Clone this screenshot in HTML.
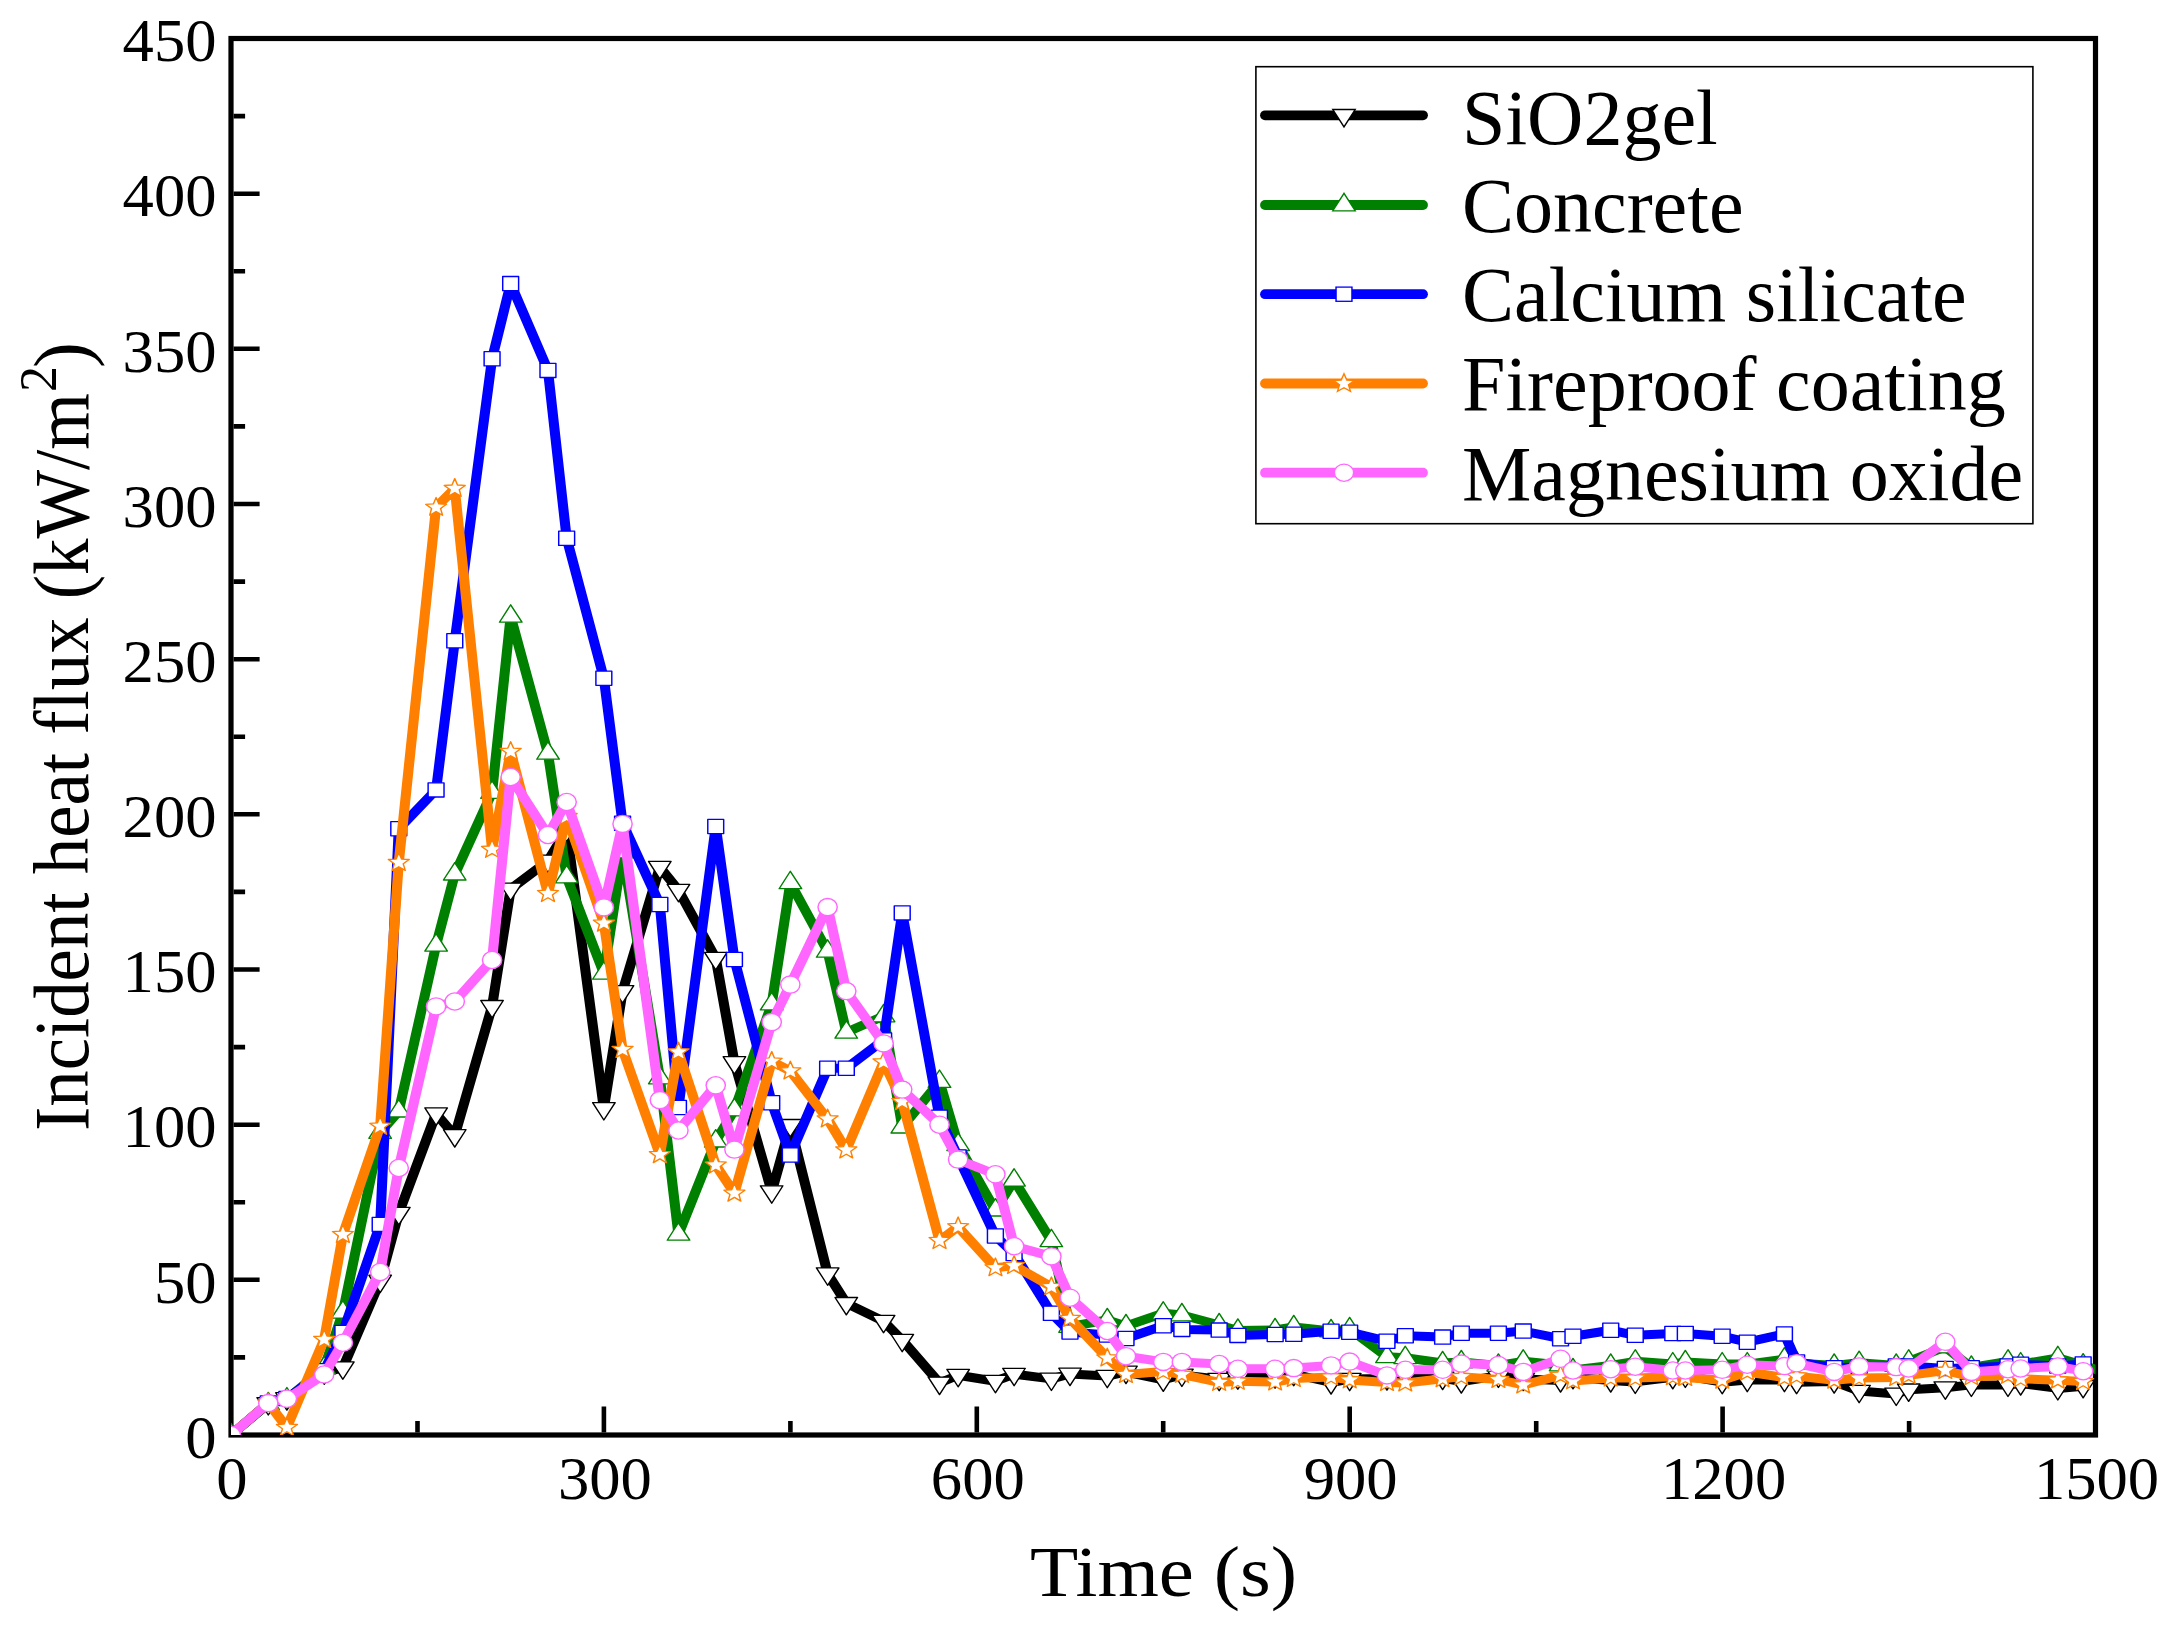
<!DOCTYPE html><html><head><meta charset="utf-8"><style>html,body{margin:0;padding:0;background:#fff;}svg{display:block;}text{font-family:"Liberation Serif","Times New Roman",serif;fill:#000;}</style></head><body>
<svg width="2169" height="1625" viewBox="0 0 2169 1625">
<rect width="2169" height="1625" fill="#fff"/>
<defs><clipPath id="pc"><rect x="231" y="38.5" width="1864.5" height="1396.5"/></clipPath></defs>
<rect x="231" y="38.5" width="1864.5" height="1396.5" fill="none" stroke="#000" stroke-width="5.2"/>
<path d="M233.6,1357.4h11.5 M233.6,1279.8h26 M233.6,1202.2h11.5 M233.6,1124.7h26 M233.6,1047.1h11.5 M233.6,969.5h26 M233.6,891.9h11.5 M233.6,814.3h26 M233.6,736.8h11.5 M233.6,659.2h26 M233.6,581.6h11.5 M233.6,504.0h26 M233.6,426.4h11.5 M233.6,348.8h26 M233.6,271.2h11.5 M233.6,193.7h26 M233.6,116.1h11.5 M417.5,1432.5v-11.5 M603.9,1432.5v-26 M790.4,1432.5v-11.5 M976.8,1432.5v-26 M1163.2,1432.5v-11.5 M1349.7,1432.5v-26 M1536.2,1432.5v-11.5 M1722.6,1432.5v-26 M1909.1,1432.5v-11.5" stroke="#000" stroke-width="4.6" fill="none"/>
<g clip-path="url(#pc)"><g transform="translate(231,0) scale(1.12,1) translate(-231,0)" stroke-linejoin="round">
<path d="M231.0,1435.0 L264.3,1403.4 L280.9,1398.5 L314.2,1372.7 L330.9,1367.7 L364.2,1281.0 L380.8,1213.2 L414.1,1113.7 L430.8,1135.5 L464.1,1006.3 L480.7,889.0 L514.0,861.0 L530.7,830.0 L563.9,1108.4 L580.6,991.4 L613.9,867.2 L630.5,890.2 L663.8,958.2 L680.5,1062.5 L713.8,1191.6 L730.4,1125.3 L763.7,1273.7 L780.4,1303.3 L813.7,1321.2 L830.3,1340.1 L863.6,1383.0 L880.2,1375.2 L913.5,1381.2 L930.2,1374.1 L963.5,1378.9 L980.1,1374.0 L1013.4,1376.1 L1030.1,1372.0 L1063.4,1379.8 L1080.0,1374.9 L1113.3,1379.1 L1130.0,1377.7 L1163.2,1376.6 L1179.9,1374.2 L1213.2,1382.5 L1229.8,1379.1 L1263.1,1378.5 L1279.5,1375.9 L1312.8,1378.0 L1329.5,1381.5 L1362.6,1375.9 L1384.8,1379.0 L1418.1,1380.5 L1429.2,1377.3 L1462.9,1380.5 L1484.8,1381.9 L1518.3,1377.3 L1529.5,1375.9 L1562.4,1382.2 L1584.8,1380.1 L1618.0,1380.1 L1628.9,1382.2 L1662.4,1381.5 L1684.7,1391.1 L1717.8,1393.9 L1728.9,1389.8 L1761.6,1387.7 L1784.9,1384.9 L1817.6,1384.9 L1828.9,1383.5 L1862.1,1388.4 L1884.7,1386.3" fill="none" stroke="#000000" stroke-width="9.0"/>
<path d="M220.9,1429.2H241.1L231.0,1446.6Z" fill="#fff" stroke="#000000" stroke-width="1.3"/><path d="M254.2,1397.6H274.3L264.3,1415.0Z" fill="#fff" stroke="#000000" stroke-width="1.3"/><path d="M270.9,1392.7H291.0L280.9,1410.1Z" fill="#fff" stroke="#000000" stroke-width="1.3"/><path d="M304.2,1366.9H324.3L314.2,1384.3Z" fill="#fff" stroke="#000000" stroke-width="1.3"/><path d="M320.8,1361.9H340.9L330.9,1379.3Z" fill="#fff" stroke="#000000" stroke-width="1.3"/><path d="M354.1,1275.2H374.2L364.2,1292.6Z" fill="#fff" stroke="#000000" stroke-width="1.3"/><path d="M370.8,1207.4H390.9L380.8,1224.8Z" fill="#fff" stroke="#000000" stroke-width="1.3"/><path d="M404.1,1107.9H424.2L414.1,1125.3Z" fill="#fff" stroke="#000000" stroke-width="1.3"/><path d="M420.7,1129.7H440.8L430.8,1147.1Z" fill="#fff" stroke="#000000" stroke-width="1.3"/><path d="M454.0,1000.5H474.1L464.1,1017.9Z" fill="#fff" stroke="#000000" stroke-width="1.3"/><path d="M470.7,883.2H490.8L480.7,900.6Z" fill="#fff" stroke="#000000" stroke-width="1.3"/><path d="M504.0,855.2H524.1L514.0,872.6Z" fill="#fff" stroke="#000000" stroke-width="1.3"/><path d="M520.6,824.2H540.7L530.7,841.6Z" fill="#fff" stroke="#000000" stroke-width="1.3"/><path d="M553.9,1102.6H574.0L563.9,1120.0Z" fill="#fff" stroke="#000000" stroke-width="1.3"/><path d="M570.5,985.6H590.6L580.6,1003.0Z" fill="#fff" stroke="#000000" stroke-width="1.3"/><path d="M603.8,861.4H623.9L613.9,878.8Z" fill="#fff" stroke="#000000" stroke-width="1.3"/><path d="M620.5,884.4H640.6L630.5,901.8Z" fill="#fff" stroke="#000000" stroke-width="1.3"/><path d="M653.8,952.4H673.9L663.8,969.8Z" fill="#fff" stroke="#000000" stroke-width="1.3"/><path d="M670.4,1056.7H690.5L680.5,1074.1Z" fill="#fff" stroke="#000000" stroke-width="1.3"/><path d="M703.7,1185.8H723.8L713.8,1203.2Z" fill="#fff" stroke="#000000" stroke-width="1.3"/><path d="M720.4,1119.5H740.5L730.4,1136.9Z" fill="#fff" stroke="#000000" stroke-width="1.3"/><path d="M753.7,1267.9H773.8L763.7,1285.3Z" fill="#fff" stroke="#000000" stroke-width="1.3"/><path d="M770.3,1297.5H790.4L780.4,1314.9Z" fill="#fff" stroke="#000000" stroke-width="1.3"/><path d="M803.6,1315.4H823.7L813.7,1332.8Z" fill="#fff" stroke="#000000" stroke-width="1.3"/><path d="M820.3,1334.3H840.4L830.3,1351.7Z" fill="#fff" stroke="#000000" stroke-width="1.3"/><path d="M853.5,1377.2H873.6L863.6,1394.6Z" fill="#fff" stroke="#000000" stroke-width="1.3"/><path d="M870.2,1369.4H890.3L880.2,1386.8Z" fill="#fff" stroke="#000000" stroke-width="1.3"/><path d="M903.5,1375.4H923.6L913.5,1392.8Z" fill="#fff" stroke="#000000" stroke-width="1.3"/><path d="M920.1,1368.3H940.2L930.2,1385.7Z" fill="#fff" stroke="#000000" stroke-width="1.3"/><path d="M953.4,1373.1H973.5L963.5,1390.5Z" fill="#fff" stroke="#000000" stroke-width="1.3"/><path d="M970.1,1368.2H990.2L980.1,1385.6Z" fill="#fff" stroke="#000000" stroke-width="1.3"/><path d="M1003.4,1370.3H1023.5L1013.4,1387.7Z" fill="#fff" stroke="#000000" stroke-width="1.3"/><path d="M1020.0,1366.2H1040.1L1030.1,1383.6Z" fill="#fff" stroke="#000000" stroke-width="1.3"/><path d="M1053.3,1374.0H1073.4L1063.4,1391.4Z" fill="#fff" stroke="#000000" stroke-width="1.3"/><path d="M1070.0,1369.1H1090.1L1080.0,1386.5Z" fill="#fff" stroke="#000000" stroke-width="1.3"/><path d="M1103.3,1373.3H1123.4L1113.3,1390.7Z" fill="#fff" stroke="#000000" stroke-width="1.3"/><path d="M1119.9,1371.9H1140.0L1130.0,1389.3Z" fill="#fff" stroke="#000000" stroke-width="1.3"/><path d="M1153.2,1370.8H1173.3L1163.2,1388.2Z" fill="#fff" stroke="#000000" stroke-width="1.3"/><path d="M1169.8,1368.4H1189.9L1179.9,1385.8Z" fill="#fff" stroke="#000000" stroke-width="1.3"/><path d="M1203.1,1376.7H1223.2L1213.2,1394.1Z" fill="#fff" stroke="#000000" stroke-width="1.3"/><path d="M1219.8,1373.3H1239.9L1229.8,1390.7Z" fill="#fff" stroke="#000000" stroke-width="1.3"/><path d="M1253.1,1372.7H1273.2L1263.1,1390.1Z" fill="#fff" stroke="#000000" stroke-width="1.3"/><path d="M1269.4,1370.1H1289.5L1279.5,1387.5Z" fill="#fff" stroke="#000000" stroke-width="1.3"/><path d="M1302.7,1372.2H1322.8L1312.8,1389.6Z" fill="#fff" stroke="#000000" stroke-width="1.3"/><path d="M1319.4,1375.7H1339.5L1329.5,1393.1Z" fill="#fff" stroke="#000000" stroke-width="1.3"/><path d="M1352.6,1370.1H1372.7L1362.6,1387.5Z" fill="#fff" stroke="#000000" stroke-width="1.3"/><path d="M1374.7,1373.2H1394.8L1384.8,1390.6Z" fill="#fff" stroke="#000000" stroke-width="1.3"/><path d="M1408.1,1374.7H1428.2L1418.1,1392.1Z" fill="#fff" stroke="#000000" stroke-width="1.3"/><path d="M1419.2,1371.5H1439.3L1429.2,1388.9Z" fill="#fff" stroke="#000000" stroke-width="1.3"/><path d="M1452.8,1374.7H1472.9L1462.9,1392.1Z" fill="#fff" stroke="#000000" stroke-width="1.3"/><path d="M1474.8,1376.1H1494.9L1484.8,1393.5Z" fill="#fff" stroke="#000000" stroke-width="1.3"/><path d="M1508.3,1371.5H1528.4L1518.3,1388.9Z" fill="#fff" stroke="#000000" stroke-width="1.3"/><path d="M1519.4,1370.1H1539.5L1529.5,1387.5Z" fill="#fff" stroke="#000000" stroke-width="1.3"/><path d="M1552.4,1376.4H1572.5L1562.4,1393.8Z" fill="#fff" stroke="#000000" stroke-width="1.3"/><path d="M1574.7,1374.3H1594.8L1584.8,1391.7Z" fill="#fff" stroke="#000000" stroke-width="1.3"/><path d="M1607.9,1374.3H1628.0L1618.0,1391.7Z" fill="#fff" stroke="#000000" stroke-width="1.3"/><path d="M1618.8,1376.4H1638.9L1628.9,1393.8Z" fill="#fff" stroke="#000000" stroke-width="1.3"/><path d="M1652.4,1375.7H1672.5L1662.4,1393.1Z" fill="#fff" stroke="#000000" stroke-width="1.3"/><path d="M1674.6,1385.3H1694.7L1684.7,1402.7Z" fill="#fff" stroke="#000000" stroke-width="1.3"/><path d="M1707.7,1388.1H1727.8L1717.8,1405.5Z" fill="#fff" stroke="#000000" stroke-width="1.3"/><path d="M1718.9,1384.0H1739.0L1728.9,1401.4Z" fill="#fff" stroke="#000000" stroke-width="1.3"/><path d="M1751.6,1381.9H1771.7L1761.6,1399.3Z" fill="#fff" stroke="#000000" stroke-width="1.3"/><path d="M1774.9,1379.1H1795.0L1784.9,1396.5Z" fill="#fff" stroke="#000000" stroke-width="1.3"/><path d="M1807.6,1379.1H1827.7L1817.6,1396.5Z" fill="#fff" stroke="#000000" stroke-width="1.3"/><path d="M1818.9,1377.7H1839.0L1828.9,1395.1Z" fill="#fff" stroke="#000000" stroke-width="1.3"/><path d="M1852.0,1382.6H1872.1L1862.1,1400.0Z" fill="#fff" stroke="#000000" stroke-width="1.3"/><path d="M1874.6,1380.5H1894.7L1884.7,1397.9Z" fill="#fff" stroke="#000000" stroke-width="1.3"/>
<path d="M231.0,1435.0 L264.3,1404.0 L280.9,1399.1 L314.2,1368.0 L330.9,1312.3 L364.2,1132.5 L380.8,1111.2 L414.1,945.3 L430.8,874.2 L464.1,792.5 L480.7,616.4 L514.0,753.4 L530.7,877.0 L563.9,973.4 L580.6,852.0 L613.9,1078.0 L630.5,1234.4 L663.8,1141.2 L680.5,1110.0 L713.8,1004.1 L730.4,882.9 L763.7,951.4 L780.4,1032.4 L813.7,1016.0 L830.3,1127.2 L863.6,1081.6 L880.2,1144.7 L913.5,1210.2 L930.2,1180.3 L963.5,1240.9 L980.1,1326.5 L1013.4,1320.0 L1030.1,1326.0 L1063.4,1313.3 L1080.0,1315.0 L1113.3,1325.0 L1130.0,1330.5 L1163.2,1330.0 L1179.9,1327.0 L1213.2,1331.0 L1229.8,1329.0 L1263.1,1356.8 L1279.5,1357.8 L1312.8,1363.0 L1329.5,1362.0 L1362.6,1365.5 L1384.8,1361.3 L1418.1,1365.0 L1429.2,1370.0 L1462.9,1365.5 L1484.8,1361.3 L1518.3,1364.1 L1529.5,1362.0 L1562.4,1364.1 L1584.8,1364.1 L1618.0,1359.2 L1628.9,1363.0 L1662.4,1365.5 L1684.7,1362.7 L1717.8,1365.5 L1728.9,1361.3 L1761.6,1347.0 L1784.9,1367.5 L1817.6,1361.3 L1828.9,1364.1 L1862.1,1357.9 L1884.7,1365.2 L1917.6,1378.0" fill="none" stroke="#008000" stroke-width="9.0"/>
<path d="M220.9,1440.8H241.1L231.0,1423.4Z" fill="#fff" stroke="#008000" stroke-width="1.3"/><path d="M254.2,1409.8H274.3L264.3,1392.4Z" fill="#fff" stroke="#008000" stroke-width="1.3"/><path d="M270.9,1404.9H291.0L280.9,1387.5Z" fill="#fff" stroke="#008000" stroke-width="1.3"/><path d="M304.2,1373.8H324.3L314.2,1356.4Z" fill="#fff" stroke="#008000" stroke-width="1.3"/><path d="M320.8,1318.1H340.9L330.9,1300.7Z" fill="#fff" stroke="#008000" stroke-width="1.3"/><path d="M354.1,1138.3H374.2L364.2,1120.9Z" fill="#fff" stroke="#008000" stroke-width="1.3"/><path d="M370.8,1117.0H390.9L380.8,1099.6Z" fill="#fff" stroke="#008000" stroke-width="1.3"/><path d="M404.1,951.1H424.2L414.1,933.7Z" fill="#fff" stroke="#008000" stroke-width="1.3"/><path d="M420.7,880.0H440.8L430.8,862.6Z" fill="#fff" stroke="#008000" stroke-width="1.3"/><path d="M454.0,798.3H474.1L464.1,780.9Z" fill="#fff" stroke="#008000" stroke-width="1.3"/><path d="M470.7,622.2H490.8L480.7,604.8Z" fill="#fff" stroke="#008000" stroke-width="1.3"/><path d="M504.0,759.2H524.1L514.0,741.8Z" fill="#fff" stroke="#008000" stroke-width="1.3"/><path d="M520.6,882.8H540.7L530.7,865.4Z" fill="#fff" stroke="#008000" stroke-width="1.3"/><path d="M553.9,979.2H574.0L563.9,961.8Z" fill="#fff" stroke="#008000" stroke-width="1.3"/><path d="M570.5,857.8H590.6L580.6,840.4Z" fill="#fff" stroke="#008000" stroke-width="1.3"/><path d="M603.8,1083.8H623.9L613.9,1066.4Z" fill="#fff" stroke="#008000" stroke-width="1.3"/><path d="M620.5,1240.2H640.6L630.5,1222.8Z" fill="#fff" stroke="#008000" stroke-width="1.3"/><path d="M653.8,1147.0H673.9L663.8,1129.6Z" fill="#fff" stroke="#008000" stroke-width="1.3"/><path d="M670.4,1115.8H690.5L680.5,1098.4Z" fill="#fff" stroke="#008000" stroke-width="1.3"/><path d="M703.7,1009.9H723.8L713.8,992.5Z" fill="#fff" stroke="#008000" stroke-width="1.3"/><path d="M720.4,888.7H740.5L730.4,871.3Z" fill="#fff" stroke="#008000" stroke-width="1.3"/><path d="M753.7,957.2H773.8L763.7,939.8Z" fill="#fff" stroke="#008000" stroke-width="1.3"/><path d="M770.3,1038.2H790.4L780.4,1020.8Z" fill="#fff" stroke="#008000" stroke-width="1.3"/><path d="M803.6,1021.8H823.7L813.7,1004.4Z" fill="#fff" stroke="#008000" stroke-width="1.3"/><path d="M820.3,1133.0H840.4L830.3,1115.6Z" fill="#fff" stroke="#008000" stroke-width="1.3"/><path d="M853.5,1087.4H873.6L863.6,1070.0Z" fill="#fff" stroke="#008000" stroke-width="1.3"/><path d="M870.2,1150.5H890.3L880.2,1133.1Z" fill="#fff" stroke="#008000" stroke-width="1.3"/><path d="M903.5,1216.0H923.6L913.5,1198.6Z" fill="#fff" stroke="#008000" stroke-width="1.3"/><path d="M920.1,1186.1H940.2L930.2,1168.7Z" fill="#fff" stroke="#008000" stroke-width="1.3"/><path d="M953.4,1246.7H973.5L963.5,1229.3Z" fill="#fff" stroke="#008000" stroke-width="1.3"/><path d="M970.1,1332.3H990.2L980.1,1314.9Z" fill="#fff" stroke="#008000" stroke-width="1.3"/><path d="M1003.4,1325.8H1023.5L1013.4,1308.4Z" fill="#fff" stroke="#008000" stroke-width="1.3"/><path d="M1020.0,1331.8H1040.1L1030.1,1314.4Z" fill="#fff" stroke="#008000" stroke-width="1.3"/><path d="M1053.3,1319.1H1073.4L1063.4,1301.7Z" fill="#fff" stroke="#008000" stroke-width="1.3"/><path d="M1070.0,1320.8H1090.1L1080.0,1303.4Z" fill="#fff" stroke="#008000" stroke-width="1.3"/><path d="M1103.3,1330.8H1123.4L1113.3,1313.4Z" fill="#fff" stroke="#008000" stroke-width="1.3"/><path d="M1119.9,1336.3H1140.0L1130.0,1318.9Z" fill="#fff" stroke="#008000" stroke-width="1.3"/><path d="M1153.2,1335.8H1173.3L1163.2,1318.4Z" fill="#fff" stroke="#008000" stroke-width="1.3"/><path d="M1169.8,1332.8H1189.9L1179.9,1315.4Z" fill="#fff" stroke="#008000" stroke-width="1.3"/><path d="M1203.1,1336.8H1223.2L1213.2,1319.4Z" fill="#fff" stroke="#008000" stroke-width="1.3"/><path d="M1219.8,1334.8H1239.9L1229.8,1317.4Z" fill="#fff" stroke="#008000" stroke-width="1.3"/><path d="M1253.1,1362.6H1273.2L1263.1,1345.2Z" fill="#fff" stroke="#008000" stroke-width="1.3"/><path d="M1269.4,1363.6H1289.5L1279.5,1346.2Z" fill="#fff" stroke="#008000" stroke-width="1.3"/><path d="M1302.7,1368.8H1322.8L1312.8,1351.4Z" fill="#fff" stroke="#008000" stroke-width="1.3"/><path d="M1319.4,1367.8H1339.5L1329.5,1350.4Z" fill="#fff" stroke="#008000" stroke-width="1.3"/><path d="M1352.6,1371.3H1372.7L1362.6,1353.9Z" fill="#fff" stroke="#008000" stroke-width="1.3"/><path d="M1374.7,1367.1H1394.8L1384.8,1349.7Z" fill="#fff" stroke="#008000" stroke-width="1.3"/><path d="M1408.1,1370.8H1428.2L1418.1,1353.4Z" fill="#fff" stroke="#008000" stroke-width="1.3"/><path d="M1419.2,1375.8H1439.3L1429.2,1358.4Z" fill="#fff" stroke="#008000" stroke-width="1.3"/><path d="M1452.8,1371.3H1472.9L1462.9,1353.9Z" fill="#fff" stroke="#008000" stroke-width="1.3"/><path d="M1474.8,1367.1H1494.9L1484.8,1349.7Z" fill="#fff" stroke="#008000" stroke-width="1.3"/><path d="M1508.3,1369.9H1528.4L1518.3,1352.5Z" fill="#fff" stroke="#008000" stroke-width="1.3"/><path d="M1519.4,1367.8H1539.5L1529.5,1350.4Z" fill="#fff" stroke="#008000" stroke-width="1.3"/><path d="M1552.4,1369.9H1572.5L1562.4,1352.5Z" fill="#fff" stroke="#008000" stroke-width="1.3"/><path d="M1574.7,1369.9H1594.8L1584.8,1352.5Z" fill="#fff" stroke="#008000" stroke-width="1.3"/><path d="M1607.9,1365.0H1628.0L1618.0,1347.6Z" fill="#fff" stroke="#008000" stroke-width="1.3"/><path d="M1618.8,1368.8H1638.9L1628.9,1351.4Z" fill="#fff" stroke="#008000" stroke-width="1.3"/><path d="M1652.4,1371.3H1672.5L1662.4,1353.9Z" fill="#fff" stroke="#008000" stroke-width="1.3"/><path d="M1674.6,1368.5H1694.7L1684.7,1351.1Z" fill="#fff" stroke="#008000" stroke-width="1.3"/><path d="M1707.7,1371.3H1727.8L1717.8,1353.9Z" fill="#fff" stroke="#008000" stroke-width="1.3"/><path d="M1718.9,1367.1H1739.0L1728.9,1349.7Z" fill="#fff" stroke="#008000" stroke-width="1.3"/><path d="M1751.6,1352.8H1771.7L1761.6,1335.4Z" fill="#fff" stroke="#008000" stroke-width="1.3"/><path d="M1774.9,1373.3H1795.0L1784.9,1355.9Z" fill="#fff" stroke="#008000" stroke-width="1.3"/><path d="M1807.6,1367.1H1827.7L1817.6,1349.7Z" fill="#fff" stroke="#008000" stroke-width="1.3"/><path d="M1818.9,1369.9H1839.0L1828.9,1352.5Z" fill="#fff" stroke="#008000" stroke-width="1.3"/><path d="M1852.0,1363.7H1872.1L1862.1,1346.3Z" fill="#fff" stroke="#008000" stroke-width="1.3"/><path d="M1874.6,1371.0H1894.7L1884.7,1353.6Z" fill="#fff" stroke="#008000" stroke-width="1.3"/>
<path d="M231.0,1435.0 L264.3,1403.0 L280.9,1398.5 L314.2,1370.8 L330.9,1332.4 L364.2,1224.4 L380.8,828.7 L414.1,789.9 L430.8,640.8 L464.1,358.8 L480.7,283.6 L514.0,370.4 L530.7,538.3 L563.9,678.2 L580.6,823.3 L613.9,904.5 L630.5,1107.5 L663.8,826.5 L680.5,959.5 L713.8,1102.8 L730.4,1155.0 L763.7,1068.3 L780.4,1068.3 L813.7,1040.0 L830.3,912.9 L863.6,1117.3 L880.2,1157.0 L913.5,1236.0 L930.2,1253.6 L963.5,1313.3 L980.1,1332.0 L1013.4,1335.0 L1030.1,1338.5 L1063.4,1325.7 L1080.0,1329.4 L1113.3,1330.1 L1130.0,1335.4 L1163.2,1334.5 L1179.9,1334.3 L1213.2,1331.2 L1229.8,1332.2 L1263.1,1341.2 L1279.5,1335.7 L1312.8,1337.1 L1329.5,1333.2 L1362.6,1333.2 L1384.8,1331.1 L1418.1,1338.7 L1429.2,1336.2 L1462.9,1330.2 L1484.8,1335.3 L1518.3,1333.5 L1529.5,1333.5 L1562.4,1336.2 L1584.8,1342.2 L1618.0,1333.9 L1628.9,1362.0 L1662.4,1367.8 L1684.7,1367.0 L1717.8,1366.0 L1728.9,1366.0 L1761.6,1368.5 L1784.9,1367.8 L1817.6,1366.0 L1828.9,1364.3 L1862.1,1366.0 L1884.7,1363.9" fill="none" stroke="#0000ff" stroke-width="9.0"/>
<rect x="223.9" y="1427.9" width="14.2" height="14.2" fill="#fff" stroke="#0000ff" stroke-width="1.3"/><rect x="257.2" y="1395.9" width="14.2" height="14.2" fill="#fff" stroke="#0000ff" stroke-width="1.3"/><rect x="273.8" y="1391.4" width="14.2" height="14.2" fill="#fff" stroke="#0000ff" stroke-width="1.3"/><rect x="307.1" y="1363.7" width="14.2" height="14.2" fill="#fff" stroke="#0000ff" stroke-width="1.3"/><rect x="323.8" y="1325.3" width="14.2" height="14.2" fill="#fff" stroke="#0000ff" stroke-width="1.3"/><rect x="357.1" y="1217.3" width="14.2" height="14.2" fill="#fff" stroke="#0000ff" stroke-width="1.3"/><rect x="373.7" y="821.6" width="14.2" height="14.2" fill="#fff" stroke="#0000ff" stroke-width="1.3"/><rect x="407.0" y="782.8" width="14.2" height="14.2" fill="#fff" stroke="#0000ff" stroke-width="1.3"/><rect x="423.7" y="633.7" width="14.2" height="14.2" fill="#fff" stroke="#0000ff" stroke-width="1.3"/><rect x="457.0" y="351.7" width="14.2" height="14.2" fill="#fff" stroke="#0000ff" stroke-width="1.3"/><rect x="473.6" y="276.5" width="14.2" height="14.2" fill="#fff" stroke="#0000ff" stroke-width="1.3"/><rect x="506.9" y="363.3" width="14.2" height="14.2" fill="#fff" stroke="#0000ff" stroke-width="1.3"/><rect x="523.6" y="531.2" width="14.2" height="14.2" fill="#fff" stroke="#0000ff" stroke-width="1.3"/><rect x="556.8" y="671.1" width="14.2" height="14.2" fill="#fff" stroke="#0000ff" stroke-width="1.3"/><rect x="573.5" y="816.2" width="14.2" height="14.2" fill="#fff" stroke="#0000ff" stroke-width="1.3"/><rect x="606.8" y="897.4" width="14.2" height="14.2" fill="#fff" stroke="#0000ff" stroke-width="1.3"/><rect x="623.4" y="1100.4" width="14.2" height="14.2" fill="#fff" stroke="#0000ff" stroke-width="1.3"/><rect x="656.7" y="819.4" width="14.2" height="14.2" fill="#fff" stroke="#0000ff" stroke-width="1.3"/><rect x="673.4" y="952.4" width="14.2" height="14.2" fill="#fff" stroke="#0000ff" stroke-width="1.3"/><rect x="706.7" y="1095.7" width="14.2" height="14.2" fill="#fff" stroke="#0000ff" stroke-width="1.3"/><rect x="723.3" y="1147.9" width="14.2" height="14.2" fill="#fff" stroke="#0000ff" stroke-width="1.3"/><rect x="756.6" y="1061.2" width="14.2" height="14.2" fill="#fff" stroke="#0000ff" stroke-width="1.3"/><rect x="773.3" y="1061.2" width="14.2" height="14.2" fill="#fff" stroke="#0000ff" stroke-width="1.3"/><rect x="806.6" y="1032.9" width="14.2" height="14.2" fill="#fff" stroke="#0000ff" stroke-width="1.3"/><rect x="823.2" y="905.8" width="14.2" height="14.2" fill="#fff" stroke="#0000ff" stroke-width="1.3"/><rect x="856.5" y="1110.2" width="14.2" height="14.2" fill="#fff" stroke="#0000ff" stroke-width="1.3"/><rect x="873.1" y="1149.9" width="14.2" height="14.2" fill="#fff" stroke="#0000ff" stroke-width="1.3"/><rect x="906.4" y="1228.9" width="14.2" height="14.2" fill="#fff" stroke="#0000ff" stroke-width="1.3"/><rect x="923.1" y="1246.5" width="14.2" height="14.2" fill="#fff" stroke="#0000ff" stroke-width="1.3"/><rect x="956.4" y="1306.2" width="14.2" height="14.2" fill="#fff" stroke="#0000ff" stroke-width="1.3"/><rect x="973.0" y="1324.9" width="14.2" height="14.2" fill="#fff" stroke="#0000ff" stroke-width="1.3"/><rect x="1006.3" y="1327.9" width="14.2" height="14.2" fill="#fff" stroke="#0000ff" stroke-width="1.3"/><rect x="1023.0" y="1331.4" width="14.2" height="14.2" fill="#fff" stroke="#0000ff" stroke-width="1.3"/><rect x="1056.3" y="1318.6" width="14.2" height="14.2" fill="#fff" stroke="#0000ff" stroke-width="1.3"/><rect x="1072.9" y="1322.3" width="14.2" height="14.2" fill="#fff" stroke="#0000ff" stroke-width="1.3"/><rect x="1106.2" y="1323.0" width="14.2" height="14.2" fill="#fff" stroke="#0000ff" stroke-width="1.3"/><rect x="1122.9" y="1328.3" width="14.2" height="14.2" fill="#fff" stroke="#0000ff" stroke-width="1.3"/><rect x="1156.2" y="1327.4" width="14.2" height="14.2" fill="#fff" stroke="#0000ff" stroke-width="1.3"/><rect x="1172.8" y="1327.2" width="14.2" height="14.2" fill="#fff" stroke="#0000ff" stroke-width="1.3"/><rect x="1206.1" y="1324.1" width="14.2" height="14.2" fill="#fff" stroke="#0000ff" stroke-width="1.3"/><rect x="1222.7" y="1325.1" width="14.2" height="14.2" fill="#fff" stroke="#0000ff" stroke-width="1.3"/><rect x="1256.0" y="1334.1" width="14.2" height="14.2" fill="#fff" stroke="#0000ff" stroke-width="1.3"/><rect x="1272.4" y="1328.6" width="14.2" height="14.2" fill="#fff" stroke="#0000ff" stroke-width="1.3"/><rect x="1305.7" y="1330.0" width="14.2" height="14.2" fill="#fff" stroke="#0000ff" stroke-width="1.3"/><rect x="1322.4" y="1326.1" width="14.2" height="14.2" fill="#fff" stroke="#0000ff" stroke-width="1.3"/><rect x="1355.5" y="1326.1" width="14.2" height="14.2" fill="#fff" stroke="#0000ff" stroke-width="1.3"/><rect x="1377.7" y="1324.0" width="14.2" height="14.2" fill="#fff" stroke="#0000ff" stroke-width="1.3"/><rect x="1411.0" y="1331.6" width="14.2" height="14.2" fill="#fff" stroke="#0000ff" stroke-width="1.3"/><rect x="1422.1" y="1329.1" width="14.2" height="14.2" fill="#fff" stroke="#0000ff" stroke-width="1.3"/><rect x="1455.8" y="1323.1" width="14.2" height="14.2" fill="#fff" stroke="#0000ff" stroke-width="1.3"/><rect x="1477.7" y="1328.2" width="14.2" height="14.2" fill="#fff" stroke="#0000ff" stroke-width="1.3"/><rect x="1511.2" y="1326.4" width="14.2" height="14.2" fill="#fff" stroke="#0000ff" stroke-width="1.3"/><rect x="1522.4" y="1326.4" width="14.2" height="14.2" fill="#fff" stroke="#0000ff" stroke-width="1.3"/><rect x="1555.3" y="1329.1" width="14.2" height="14.2" fill="#fff" stroke="#0000ff" stroke-width="1.3"/><rect x="1577.7" y="1335.1" width="14.2" height="14.2" fill="#fff" stroke="#0000ff" stroke-width="1.3"/><rect x="1610.9" y="1326.8" width="14.2" height="14.2" fill="#fff" stroke="#0000ff" stroke-width="1.3"/><rect x="1621.8" y="1354.9" width="14.2" height="14.2" fill="#fff" stroke="#0000ff" stroke-width="1.3"/><rect x="1655.3" y="1360.7" width="14.2" height="14.2" fill="#fff" stroke="#0000ff" stroke-width="1.3"/><rect x="1677.6" y="1359.9" width="14.2" height="14.2" fill="#fff" stroke="#0000ff" stroke-width="1.3"/><rect x="1710.7" y="1358.9" width="14.2" height="14.2" fill="#fff" stroke="#0000ff" stroke-width="1.3"/><rect x="1721.8" y="1358.9" width="14.2" height="14.2" fill="#fff" stroke="#0000ff" stroke-width="1.3"/><rect x="1754.5" y="1361.4" width="14.2" height="14.2" fill="#fff" stroke="#0000ff" stroke-width="1.3"/><rect x="1777.8" y="1360.7" width="14.2" height="14.2" fill="#fff" stroke="#0000ff" stroke-width="1.3"/><rect x="1810.5" y="1358.9" width="14.2" height="14.2" fill="#fff" stroke="#0000ff" stroke-width="1.3"/><rect x="1821.8" y="1357.2" width="14.2" height="14.2" fill="#fff" stroke="#0000ff" stroke-width="1.3"/><rect x="1855.0" y="1358.9" width="14.2" height="14.2" fill="#fff" stroke="#0000ff" stroke-width="1.3"/><rect x="1877.6" y="1356.8" width="14.2" height="14.2" fill="#fff" stroke="#0000ff" stroke-width="1.3"/>
<path d="M231.0,1435.0 L264.3,1403.0 L280.9,1427.5 L314.2,1339.5 L330.9,1234.6 L364.2,1126.3 L380.8,862.5 L414.1,507.3 L430.8,488.4 L464.1,849.4 L480.7,751.5 L514.0,893.6 L530.7,816.5 L563.9,923.2 L580.6,1049.5 L613.9,1154.7 L630.5,1052.0 L663.8,1165.1 L680.5,1193.2 L713.8,1061.3 L730.4,1071.0 L763.7,1119.0 L780.4,1150.0 L813.7,1062.0 L830.3,1101.6 L863.6,1240.6 L880.2,1226.8 L913.5,1267.8 L930.2,1265.6 L963.5,1286.8 L980.1,1318.5 L1013.4,1358.0 L1030.1,1374.5 L1063.4,1371.6 L1080.0,1374.4 L1113.3,1382.4 L1130.0,1381.3 L1163.2,1382.0 L1179.9,1378.5 L1213.2,1377.1 L1229.8,1379.9 L1263.1,1382.5 L1279.5,1383.0 L1312.8,1378.8 L1329.5,1376.8 L1362.6,1379.5 L1384.8,1385.0 L1418.1,1375.4 L1429.2,1380.9 L1462.9,1378.1 L1484.8,1378.1 L1518.3,1376.8 L1529.5,1377.5 L1562.4,1380.2 L1584.8,1372.0 L1618.0,1377.5 L1628.9,1376.1 L1662.4,1380.2 L1684.7,1378.1 L1717.8,1377.5 L1728.9,1375.4 L1761.6,1370.5 L1784.9,1376.8 L1817.6,1375.4 L1828.9,1378.8 L1862.1,1380.2 L1884.7,1381.6" fill="none" stroke="#ff8000" stroke-width="9.0"/>
<polygon points="231.0,1425.2 228.5,1431.6 221.7,1432.0 227.0,1436.3 225.2,1442.9 231.0,1439.2 236.8,1442.9 235.0,1436.3 240.3,1432.0 233.5,1431.6" fill="#fff" stroke="#ff8000" stroke-width="1.3"/><polygon points="264.3,1393.2 261.8,1399.6 255.0,1400.0 260.3,1404.3 258.5,1410.9 264.3,1407.2 270.1,1410.9 268.3,1404.3 273.6,1400.0 266.8,1399.6" fill="#fff" stroke="#ff8000" stroke-width="1.3"/><polygon points="280.9,1417.7 278.5,1424.1 271.6,1424.5 276.9,1428.8 275.2,1435.4 280.9,1431.7 286.7,1435.4 284.9,1428.8 290.3,1424.5 283.4,1424.1" fill="#fff" stroke="#ff8000" stroke-width="1.3"/><polygon points="314.2,1329.7 311.8,1336.1 304.9,1336.5 310.2,1340.8 308.5,1347.4 314.2,1343.7 320.0,1347.4 318.2,1340.8 323.6,1336.5 316.7,1336.1" fill="#fff" stroke="#ff8000" stroke-width="1.3"/><polygon points="330.9,1224.8 328.4,1231.2 321.6,1231.6 326.9,1235.9 325.1,1242.5 330.9,1238.8 336.6,1242.5 334.9,1235.9 340.2,1231.6 333.4,1231.2" fill="#fff" stroke="#ff8000" stroke-width="1.3"/><polygon points="364.2,1116.5 361.7,1122.9 354.9,1123.3 360.2,1127.6 358.4,1134.2 364.2,1130.5 369.9,1134.2 368.2,1127.6 373.5,1123.3 366.6,1122.9" fill="#fff" stroke="#ff8000" stroke-width="1.3"/><polygon points="380.8,852.7 378.4,859.1 371.5,859.5 376.8,863.8 375.1,870.4 380.8,866.7 386.6,870.4 384.8,863.8 390.1,859.5 383.3,859.1" fill="#fff" stroke="#ff8000" stroke-width="1.3"/><polygon points="414.1,497.5 411.7,503.9 404.8,504.3 410.1,508.6 408.4,515.2 414.1,511.5 419.9,515.2 418.1,508.6 423.4,504.3 416.6,503.9" fill="#fff" stroke="#ff8000" stroke-width="1.3"/><polygon points="430.8,478.6 428.3,485.0 421.4,485.4 426.8,489.7 425.0,496.3 430.8,492.6 436.5,496.3 434.8,489.7 440.1,485.4 433.2,485.0" fill="#fff" stroke="#ff8000" stroke-width="1.3"/><polygon points="464.1,839.6 461.6,846.0 454.7,846.4 460.1,850.7 458.3,857.3 464.1,853.6 469.8,857.3 468.1,850.7 473.4,846.4 466.5,846.0" fill="#fff" stroke="#ff8000" stroke-width="1.3"/><polygon points="480.7,741.7 478.2,748.1 471.4,748.5 476.7,752.8 474.9,759.4 480.7,755.7 486.5,759.4 484.7,752.8 490.0,748.5 483.2,748.1" fill="#fff" stroke="#ff8000" stroke-width="1.3"/><polygon points="514.0,883.8 511.5,890.2 504.7,890.6 510.0,894.9 508.2,901.5 514.0,897.8 519.8,901.5 518.0,894.9 523.3,890.6 516.5,890.2" fill="#fff" stroke="#ff8000" stroke-width="1.3"/><polygon points="530.7,806.7 528.2,813.1 521.3,813.5 526.7,817.8 524.9,824.4 530.7,820.7 536.4,824.4 534.6,817.8 540.0,813.5 533.1,813.1" fill="#fff" stroke="#ff8000" stroke-width="1.3"/><polygon points="563.9,913.4 561.5,919.8 554.6,920.2 560.0,924.5 558.2,931.1 563.9,927.4 569.7,931.1 567.9,924.5 573.3,920.2 566.4,919.8" fill="#fff" stroke="#ff8000" stroke-width="1.3"/><polygon points="580.6,1039.7 578.1,1046.1 571.3,1046.5 576.6,1050.8 574.8,1057.4 580.6,1053.7 586.4,1057.4 584.6,1050.8 589.9,1046.5 583.1,1046.1" fill="#fff" stroke="#ff8000" stroke-width="1.3"/><polygon points="613.9,1144.9 611.4,1151.3 604.6,1151.7 609.9,1156.0 608.1,1162.6 613.9,1158.9 619.6,1162.6 617.9,1156.0 623.2,1151.7 616.4,1151.3" fill="#fff" stroke="#ff8000" stroke-width="1.3"/><polygon points="630.5,1042.2 628.1,1048.6 621.2,1049.0 626.5,1053.3 624.8,1059.9 630.5,1056.2 636.3,1059.9 634.5,1053.3 639.9,1049.0 633.0,1048.6" fill="#fff" stroke="#ff8000" stroke-width="1.3"/><polygon points="663.8,1155.3 661.4,1161.7 654.5,1162.1 659.8,1166.4 658.1,1173.0 663.8,1169.3 669.6,1173.0 667.8,1166.4 673.2,1162.1 666.3,1161.7" fill="#fff" stroke="#ff8000" stroke-width="1.3"/><polygon points="680.5,1183.4 678.0,1189.8 671.2,1190.2 676.5,1194.5 674.7,1201.1 680.5,1197.4 686.2,1201.1 684.5,1194.5 689.8,1190.2 682.9,1189.8" fill="#fff" stroke="#ff8000" stroke-width="1.3"/><polygon points="713.8,1051.5 711.3,1057.9 704.5,1058.3 709.8,1062.6 708.0,1069.2 713.8,1065.5 719.5,1069.2 717.8,1062.6 723.1,1058.3 716.2,1057.9" fill="#fff" stroke="#ff8000" stroke-width="1.3"/><polygon points="730.4,1061.2 728.0,1067.6 721.1,1068.0 726.4,1072.3 724.7,1078.9 730.4,1075.2 736.2,1078.9 734.4,1072.3 739.7,1068.0 732.9,1067.6" fill="#fff" stroke="#ff8000" stroke-width="1.3"/><polygon points="763.7,1109.2 761.2,1115.6 754.4,1116.0 759.7,1120.3 758.0,1126.9 763.7,1123.2 769.5,1126.9 767.7,1120.3 773.0,1116.0 766.2,1115.6" fill="#fff" stroke="#ff8000" stroke-width="1.3"/><polygon points="780.4,1140.2 777.9,1146.6 771.0,1147.0 776.4,1151.3 774.6,1157.9 780.4,1154.2 786.1,1157.9 784.4,1151.3 789.7,1147.0 782.8,1146.6" fill="#fff" stroke="#ff8000" stroke-width="1.3"/><polygon points="813.7,1052.2 811.2,1058.6 804.3,1059.0 809.7,1063.3 807.9,1069.9 813.7,1066.2 819.4,1069.9 817.7,1063.3 823.0,1059.0 816.1,1058.6" fill="#fff" stroke="#ff8000" stroke-width="1.3"/><polygon points="830.3,1091.8 827.8,1098.2 821.0,1098.6 826.3,1102.9 824.5,1109.5 830.3,1105.8 836.1,1109.5 834.3,1102.9 839.6,1098.6 832.8,1098.2" fill="#fff" stroke="#ff8000" stroke-width="1.3"/><polygon points="863.6,1230.8 861.1,1237.2 854.3,1237.6 859.6,1241.9 857.8,1248.5 863.6,1244.8 869.4,1248.5 867.6,1241.9 872.9,1237.6 866.1,1237.2" fill="#fff" stroke="#ff8000" stroke-width="1.3"/><polygon points="880.2,1217.0 877.8,1223.4 870.9,1223.8 876.3,1228.1 874.5,1234.7 880.2,1231.0 886.0,1234.7 884.2,1228.1 889.6,1223.8 882.7,1223.4" fill="#fff" stroke="#ff8000" stroke-width="1.3"/><polygon points="913.5,1258.0 911.1,1264.4 904.2,1264.8 909.5,1269.1 907.8,1275.7 913.5,1272.0 919.3,1275.7 917.5,1269.1 922.9,1264.8 916.0,1264.4" fill="#fff" stroke="#ff8000" stroke-width="1.3"/><polygon points="930.2,1255.8 927.7,1262.2 920.9,1262.6 926.2,1266.9 924.4,1273.5 930.2,1269.8 935.9,1273.5 934.2,1266.9 939.5,1262.6 932.7,1262.2" fill="#fff" stroke="#ff8000" stroke-width="1.3"/><polygon points="963.5,1277.0 961.0,1283.4 954.2,1283.8 959.5,1288.1 957.7,1294.7 963.5,1291.0 969.2,1294.7 967.5,1288.1 972.8,1283.8 966.0,1283.4" fill="#fff" stroke="#ff8000" stroke-width="1.3"/><polygon points="980.1,1308.7 977.7,1315.1 970.8,1315.5 976.1,1319.8 974.4,1326.4 980.1,1322.7 985.9,1326.4 984.1,1319.8 989.4,1315.5 982.6,1315.1" fill="#fff" stroke="#ff8000" stroke-width="1.3"/><polygon points="1013.4,1348.2 1011.0,1354.6 1004.1,1355.0 1009.4,1359.3 1007.7,1365.9 1013.4,1362.2 1019.2,1365.9 1017.4,1359.3 1022.7,1355.0 1015.9,1354.6" fill="#fff" stroke="#ff8000" stroke-width="1.3"/><polygon points="1030.1,1364.7 1027.6,1371.1 1020.8,1371.5 1026.1,1375.8 1024.3,1382.4 1030.1,1378.7 1035.8,1382.4 1034.1,1375.8 1039.4,1371.5 1032.5,1371.1" fill="#fff" stroke="#ff8000" stroke-width="1.3"/><polygon points="1063.4,1361.8 1060.9,1368.2 1054.0,1368.6 1059.4,1372.9 1057.6,1379.5 1063.4,1375.8 1069.1,1379.5 1067.4,1372.9 1072.7,1368.6 1065.8,1368.2" fill="#fff" stroke="#ff8000" stroke-width="1.3"/><polygon points="1080.0,1364.6 1077.5,1371.0 1070.7,1371.4 1076.0,1375.7 1074.3,1382.3 1080.0,1378.6 1085.8,1382.3 1084.0,1375.7 1089.3,1371.4 1082.5,1371.0" fill="#fff" stroke="#ff8000" stroke-width="1.3"/><polygon points="1113.3,1372.6 1110.8,1379.0 1104.0,1379.4 1109.3,1383.7 1107.5,1390.3 1113.3,1386.6 1119.1,1390.3 1117.3,1383.7 1122.6,1379.4 1115.8,1379.0" fill="#fff" stroke="#ff8000" stroke-width="1.3"/><polygon points="1130.0,1371.5 1127.5,1377.9 1120.6,1378.3 1126.0,1382.6 1124.2,1389.2 1130.0,1385.5 1135.7,1389.2 1133.9,1382.6 1139.3,1378.3 1132.4,1377.9" fill="#fff" stroke="#ff8000" stroke-width="1.3"/><polygon points="1163.2,1372.2 1160.8,1378.6 1153.9,1379.0 1159.3,1383.3 1157.5,1389.9 1163.2,1386.2 1169.0,1389.9 1167.2,1383.3 1172.6,1379.0 1165.7,1378.6" fill="#fff" stroke="#ff8000" stroke-width="1.3"/><polygon points="1179.9,1368.7 1177.4,1375.1 1170.6,1375.5 1175.9,1379.8 1174.1,1386.4 1179.9,1382.7 1185.7,1386.4 1183.9,1379.8 1189.2,1375.5 1182.4,1375.1" fill="#fff" stroke="#ff8000" stroke-width="1.3"/><polygon points="1213.2,1367.3 1210.7,1373.7 1203.9,1374.1 1209.2,1378.4 1207.4,1385.0 1213.2,1381.3 1219.0,1385.0 1217.2,1378.4 1222.5,1374.1 1215.7,1373.7" fill="#fff" stroke="#ff8000" stroke-width="1.3"/><polygon points="1229.8,1370.1 1227.4,1376.5 1220.5,1376.9 1225.8,1381.2 1224.1,1387.8 1229.8,1384.1 1235.6,1387.8 1233.8,1381.2 1239.2,1376.9 1232.3,1376.5" fill="#fff" stroke="#ff8000" stroke-width="1.3"/><polygon points="1263.1,1372.7 1260.7,1379.1 1253.8,1379.5 1259.1,1383.8 1257.4,1390.4 1263.1,1386.7 1268.9,1390.4 1267.1,1383.8 1272.5,1379.5 1265.6,1379.1" fill="#fff" stroke="#ff8000" stroke-width="1.3"/><polygon points="1279.5,1373.2 1277.0,1379.6 1270.2,1380.0 1275.5,1384.3 1273.7,1390.9 1279.5,1387.2 1285.2,1390.9 1283.5,1384.3 1288.8,1380.0 1282.0,1379.6" fill="#fff" stroke="#ff8000" stroke-width="1.3"/><polygon points="1312.8,1369.0 1310.3,1375.4 1303.5,1375.8 1308.8,1380.1 1307.0,1386.7 1312.8,1383.0 1318.5,1386.7 1316.8,1380.1 1322.1,1375.8 1315.3,1375.4" fill="#fff" stroke="#ff8000" stroke-width="1.3"/><polygon points="1329.5,1367.0 1327.0,1373.4 1320.2,1373.8 1325.5,1378.1 1323.7,1384.7 1329.5,1381.0 1335.2,1384.7 1333.5,1378.1 1338.8,1373.8 1332.0,1373.4" fill="#fff" stroke="#ff8000" stroke-width="1.3"/><polygon points="1362.6,1369.7 1360.1,1376.1 1353.3,1376.5 1358.6,1380.8 1356.8,1387.4 1362.6,1383.7 1368.4,1387.4 1366.6,1380.8 1371.9,1376.5 1365.1,1376.1" fill="#fff" stroke="#ff8000" stroke-width="1.3"/><polygon points="1384.8,1375.2 1382.3,1381.6 1375.4,1382.0 1380.8,1386.3 1379.0,1392.9 1384.8,1389.2 1390.5,1392.9 1388.7,1386.3 1394.1,1382.0 1387.2,1381.6" fill="#fff" stroke="#ff8000" stroke-width="1.3"/><polygon points="1418.1,1365.6 1415.7,1372.0 1408.8,1372.4 1414.1,1376.7 1412.4,1383.3 1418.1,1379.6 1423.9,1383.3 1422.1,1376.7 1427.5,1372.4 1420.6,1372.0" fill="#fff" stroke="#ff8000" stroke-width="1.3"/><polygon points="1429.2,1371.1 1426.7,1377.5 1419.9,1377.9 1425.2,1382.2 1423.5,1388.8 1429.2,1385.1 1435.0,1388.8 1433.2,1382.2 1438.5,1377.9 1431.7,1377.5" fill="#fff" stroke="#ff8000" stroke-width="1.3"/><polygon points="1462.9,1368.3 1460.4,1374.7 1453.6,1375.1 1458.9,1379.4 1457.1,1386.0 1462.9,1382.3 1468.6,1386.0 1466.9,1379.4 1472.2,1375.1 1465.3,1374.7" fill="#fff" stroke="#ff8000" stroke-width="1.3"/><polygon points="1484.8,1368.3 1482.4,1374.7 1475.5,1375.1 1480.8,1379.4 1479.1,1386.0 1484.8,1382.3 1490.6,1386.0 1488.8,1379.4 1494.2,1375.1 1487.3,1374.7" fill="#fff" stroke="#ff8000" stroke-width="1.3"/><polygon points="1518.3,1367.0 1515.9,1373.4 1509.0,1373.8 1514.3,1378.1 1512.6,1384.7 1518.3,1381.0 1524.1,1384.7 1522.3,1378.1 1527.6,1373.8 1520.8,1373.4" fill="#fff" stroke="#ff8000" stroke-width="1.3"/><polygon points="1529.5,1367.7 1527.0,1374.1 1520.2,1374.5 1525.5,1378.8 1523.7,1385.4 1529.5,1381.7 1535.2,1385.4 1533.5,1378.8 1538.8,1374.5 1532.0,1374.1" fill="#fff" stroke="#ff8000" stroke-width="1.3"/><polygon points="1562.4,1370.4 1560.0,1376.8 1553.1,1377.2 1558.4,1381.5 1556.7,1388.1 1562.4,1384.4 1568.2,1388.1 1566.4,1381.5 1571.7,1377.2 1564.9,1376.8" fill="#fff" stroke="#ff8000" stroke-width="1.3"/><polygon points="1584.8,1362.2 1582.3,1368.6 1575.4,1369.0 1580.8,1373.3 1579.0,1379.9 1584.8,1376.2 1590.5,1379.9 1588.7,1373.3 1594.1,1369.0 1587.2,1368.6" fill="#fff" stroke="#ff8000" stroke-width="1.3"/><polygon points="1618.0,1367.7 1615.5,1374.1 1608.6,1374.5 1614.0,1378.8 1612.2,1385.4 1618.0,1381.7 1623.7,1385.4 1622.0,1378.8 1627.3,1374.5 1620.4,1374.1" fill="#fff" stroke="#ff8000" stroke-width="1.3"/><polygon points="1628.9,1366.3 1626.4,1372.7 1619.5,1373.1 1624.9,1377.4 1623.1,1384.0 1628.9,1380.3 1634.6,1384.0 1632.9,1377.4 1638.2,1373.1 1631.3,1372.7" fill="#fff" stroke="#ff8000" stroke-width="1.3"/><polygon points="1662.4,1370.4 1660.0,1376.8 1653.1,1377.2 1658.4,1381.5 1656.7,1388.1 1662.4,1384.4 1668.2,1388.1 1666.4,1381.5 1671.7,1377.2 1664.9,1376.8" fill="#fff" stroke="#ff8000" stroke-width="1.3"/><polygon points="1684.7,1368.3 1682.2,1374.7 1675.3,1375.1 1680.7,1379.4 1678.9,1386.0 1684.7,1382.3 1690.4,1386.0 1688.7,1379.4 1694.0,1375.1 1687.1,1374.7" fill="#fff" stroke="#ff8000" stroke-width="1.3"/><polygon points="1717.8,1367.7 1715.3,1374.1 1708.5,1374.5 1713.8,1378.8 1712.0,1385.4 1717.8,1381.7 1723.5,1385.4 1721.8,1378.8 1727.1,1374.5 1720.3,1374.1" fill="#fff" stroke="#ff8000" stroke-width="1.3"/><polygon points="1728.9,1365.6 1726.5,1372.0 1719.6,1372.4 1725.0,1376.7 1723.2,1383.3 1728.9,1379.6 1734.7,1383.3 1732.9,1376.7 1738.3,1372.4 1731.4,1372.0" fill="#fff" stroke="#ff8000" stroke-width="1.3"/><polygon points="1761.6,1360.7 1759.2,1367.1 1752.3,1367.5 1757.6,1371.8 1755.9,1378.4 1761.6,1374.7 1767.4,1378.4 1765.6,1371.8 1770.9,1367.5 1764.1,1367.1" fill="#fff" stroke="#ff8000" stroke-width="1.3"/><polygon points="1784.9,1367.0 1782.5,1373.4 1775.6,1373.8 1780.9,1378.1 1779.2,1384.7 1784.9,1381.0 1790.7,1384.7 1788.9,1378.1 1794.2,1373.8 1787.4,1373.4" fill="#fff" stroke="#ff8000" stroke-width="1.3"/><polygon points="1817.6,1365.6 1815.1,1372.0 1808.3,1372.4 1813.6,1376.7 1811.8,1383.3 1817.6,1379.6 1823.4,1383.3 1821.6,1376.7 1826.9,1372.4 1820.1,1372.0" fill="#fff" stroke="#ff8000" stroke-width="1.3"/><polygon points="1828.9,1369.0 1826.5,1375.4 1819.6,1375.8 1825.0,1380.1 1823.2,1386.7 1828.9,1383.0 1834.7,1386.7 1832.9,1380.1 1838.3,1375.8 1831.4,1375.4" fill="#fff" stroke="#ff8000" stroke-width="1.3"/><polygon points="1862.1,1370.4 1859.6,1376.8 1852.8,1377.2 1858.1,1381.5 1856.3,1388.1 1862.1,1384.4 1867.8,1388.1 1866.1,1381.5 1871.4,1377.2 1864.5,1376.8" fill="#fff" stroke="#ff8000" stroke-width="1.3"/><polygon points="1884.7,1371.8 1882.2,1378.2 1875.3,1378.6 1880.7,1382.9 1878.9,1389.5 1884.7,1385.8 1890.4,1389.5 1888.7,1382.9 1894.0,1378.6 1887.1,1378.2" fill="#fff" stroke="#ff8000" stroke-width="1.3"/>
<path d="M231.0,1435.0 L264.3,1403.1 L280.9,1398.8 L314.2,1374.5 L330.9,1342.7 L364.2,1272.0 L380.8,1168.0 L414.1,1006.4 L430.8,1001.5 L464.1,960.0 L480.7,777.0 L514.0,835.0 L530.7,802.0 L563.9,907.4 L580.6,823.9 L613.9,1100.1 L630.5,1130.5 L663.8,1085.3 L680.5,1149.6 L713.8,1022.1 L730.4,984.6 L763.7,907.1 L780.4,991.1 L813.7,1043.4 L830.3,1089.6 L863.6,1124.7 L880.2,1159.6 L913.5,1174.3 L930.2,1246.2 L963.5,1256.4 L980.1,1297.7 L1013.4,1331.0 L1030.1,1356.2 L1063.4,1361.9 L1080.0,1361.9 L1113.3,1364.0 L1130.0,1368.8 L1163.2,1368.8 L1179.9,1368.1 L1213.2,1365.4 L1229.8,1361.6 L1263.1,1375.4 L1279.5,1369.8 L1312.8,1369.8 L1329.5,1363.6 L1362.6,1365.0 L1384.8,1371.9 L1418.1,1358.8 L1429.2,1370.5 L1462.9,1369.2 L1484.8,1366.7 L1518.3,1370.5 L1529.5,1370.5 L1562.4,1369.8 L1584.8,1364.7 L1618.0,1366.1 L1628.9,1363.3 L1662.4,1371.9 L1684.7,1366.4 L1717.8,1367.1 L1728.9,1368.5 L1761.6,1341.8 L1784.9,1371.9 L1817.6,1369.2 L1828.9,1368.5 L1862.1,1366.4 L1884.7,1371.2" fill="none" stroke="#ff66ff" stroke-width="9.0"/>
<circle cx="231.0" cy="1435.0" r="8.6" fill="#fff" stroke="#ff66ff" stroke-width="1.3"/><circle cx="264.3" cy="1403.1" r="8.6" fill="#fff" stroke="#ff66ff" stroke-width="1.3"/><circle cx="280.9" cy="1398.8" r="8.6" fill="#fff" stroke="#ff66ff" stroke-width="1.3"/><circle cx="314.2" cy="1374.5" r="8.6" fill="#fff" stroke="#ff66ff" stroke-width="1.3"/><circle cx="330.9" cy="1342.7" r="8.6" fill="#fff" stroke="#ff66ff" stroke-width="1.3"/><circle cx="364.2" cy="1272.0" r="8.6" fill="#fff" stroke="#ff66ff" stroke-width="1.3"/><circle cx="380.8" cy="1168.0" r="8.6" fill="#fff" stroke="#ff66ff" stroke-width="1.3"/><circle cx="414.1" cy="1006.4" r="8.6" fill="#fff" stroke="#ff66ff" stroke-width="1.3"/><circle cx="430.8" cy="1001.5" r="8.6" fill="#fff" stroke="#ff66ff" stroke-width="1.3"/><circle cx="464.1" cy="960.0" r="8.6" fill="#fff" stroke="#ff66ff" stroke-width="1.3"/><circle cx="480.7" cy="777.0" r="8.6" fill="#fff" stroke="#ff66ff" stroke-width="1.3"/><circle cx="514.0" cy="835.0" r="8.6" fill="#fff" stroke="#ff66ff" stroke-width="1.3"/><circle cx="530.7" cy="802.0" r="8.6" fill="#fff" stroke="#ff66ff" stroke-width="1.3"/><circle cx="563.9" cy="907.4" r="8.6" fill="#fff" stroke="#ff66ff" stroke-width="1.3"/><circle cx="580.6" cy="823.9" r="8.6" fill="#fff" stroke="#ff66ff" stroke-width="1.3"/><circle cx="613.9" cy="1100.1" r="8.6" fill="#fff" stroke="#ff66ff" stroke-width="1.3"/><circle cx="630.5" cy="1130.5" r="8.6" fill="#fff" stroke="#ff66ff" stroke-width="1.3"/><circle cx="663.8" cy="1085.3" r="8.6" fill="#fff" stroke="#ff66ff" stroke-width="1.3"/><circle cx="680.5" cy="1149.6" r="8.6" fill="#fff" stroke="#ff66ff" stroke-width="1.3"/><circle cx="713.8" cy="1022.1" r="8.6" fill="#fff" stroke="#ff66ff" stroke-width="1.3"/><circle cx="730.4" cy="984.6" r="8.6" fill="#fff" stroke="#ff66ff" stroke-width="1.3"/><circle cx="763.7" cy="907.1" r="8.6" fill="#fff" stroke="#ff66ff" stroke-width="1.3"/><circle cx="780.4" cy="991.1" r="8.6" fill="#fff" stroke="#ff66ff" stroke-width="1.3"/><circle cx="813.7" cy="1043.4" r="8.6" fill="#fff" stroke="#ff66ff" stroke-width="1.3"/><circle cx="830.3" cy="1089.6" r="8.6" fill="#fff" stroke="#ff66ff" stroke-width="1.3"/><circle cx="863.6" cy="1124.7" r="8.6" fill="#fff" stroke="#ff66ff" stroke-width="1.3"/><circle cx="880.2" cy="1159.6" r="8.6" fill="#fff" stroke="#ff66ff" stroke-width="1.3"/><circle cx="913.5" cy="1174.3" r="8.6" fill="#fff" stroke="#ff66ff" stroke-width="1.3"/><circle cx="930.2" cy="1246.2" r="8.6" fill="#fff" stroke="#ff66ff" stroke-width="1.3"/><circle cx="963.5" cy="1256.4" r="8.6" fill="#fff" stroke="#ff66ff" stroke-width="1.3"/><circle cx="980.1" cy="1297.7" r="8.6" fill="#fff" stroke="#ff66ff" stroke-width="1.3"/><circle cx="1013.4" cy="1331.0" r="8.6" fill="#fff" stroke="#ff66ff" stroke-width="1.3"/><circle cx="1030.1" cy="1356.2" r="8.6" fill="#fff" stroke="#ff66ff" stroke-width="1.3"/><circle cx="1063.4" cy="1361.9" r="8.6" fill="#fff" stroke="#ff66ff" stroke-width="1.3"/><circle cx="1080.0" cy="1361.9" r="8.6" fill="#fff" stroke="#ff66ff" stroke-width="1.3"/><circle cx="1113.3" cy="1364.0" r="8.6" fill="#fff" stroke="#ff66ff" stroke-width="1.3"/><circle cx="1130.0" cy="1368.8" r="8.6" fill="#fff" stroke="#ff66ff" stroke-width="1.3"/><circle cx="1163.2" cy="1368.8" r="8.6" fill="#fff" stroke="#ff66ff" stroke-width="1.3"/><circle cx="1179.9" cy="1368.1" r="8.6" fill="#fff" stroke="#ff66ff" stroke-width="1.3"/><circle cx="1213.2" cy="1365.4" r="8.6" fill="#fff" stroke="#ff66ff" stroke-width="1.3"/><circle cx="1229.8" cy="1361.6" r="8.6" fill="#fff" stroke="#ff66ff" stroke-width="1.3"/><circle cx="1263.1" cy="1375.4" r="8.6" fill="#fff" stroke="#ff66ff" stroke-width="1.3"/><circle cx="1279.5" cy="1369.8" r="8.6" fill="#fff" stroke="#ff66ff" stroke-width="1.3"/><circle cx="1312.8" cy="1369.8" r="8.6" fill="#fff" stroke="#ff66ff" stroke-width="1.3"/><circle cx="1329.5" cy="1363.6" r="8.6" fill="#fff" stroke="#ff66ff" stroke-width="1.3"/><circle cx="1362.6" cy="1365.0" r="8.6" fill="#fff" stroke="#ff66ff" stroke-width="1.3"/><circle cx="1384.8" cy="1371.9" r="8.6" fill="#fff" stroke="#ff66ff" stroke-width="1.3"/><circle cx="1418.1" cy="1358.8" r="8.6" fill="#fff" stroke="#ff66ff" stroke-width="1.3"/><circle cx="1429.2" cy="1370.5" r="8.6" fill="#fff" stroke="#ff66ff" stroke-width="1.3"/><circle cx="1462.9" cy="1369.2" r="8.6" fill="#fff" stroke="#ff66ff" stroke-width="1.3"/><circle cx="1484.8" cy="1366.7" r="8.6" fill="#fff" stroke="#ff66ff" stroke-width="1.3"/><circle cx="1518.3" cy="1370.5" r="8.6" fill="#fff" stroke="#ff66ff" stroke-width="1.3"/><circle cx="1529.5" cy="1370.5" r="8.6" fill="#fff" stroke="#ff66ff" stroke-width="1.3"/><circle cx="1562.4" cy="1369.8" r="8.6" fill="#fff" stroke="#ff66ff" stroke-width="1.3"/><circle cx="1584.8" cy="1364.7" r="8.6" fill="#fff" stroke="#ff66ff" stroke-width="1.3"/><circle cx="1618.0" cy="1366.1" r="8.6" fill="#fff" stroke="#ff66ff" stroke-width="1.3"/><circle cx="1628.9" cy="1363.3" r="8.6" fill="#fff" stroke="#ff66ff" stroke-width="1.3"/><circle cx="1662.4" cy="1371.9" r="8.6" fill="#fff" stroke="#ff66ff" stroke-width="1.3"/><circle cx="1684.7" cy="1366.4" r="8.6" fill="#fff" stroke="#ff66ff" stroke-width="1.3"/><circle cx="1717.8" cy="1367.1" r="8.6" fill="#fff" stroke="#ff66ff" stroke-width="1.3"/><circle cx="1728.9" cy="1368.5" r="8.6" fill="#fff" stroke="#ff66ff" stroke-width="1.3"/><circle cx="1761.6" cy="1341.8" r="8.6" fill="#fff" stroke="#ff66ff" stroke-width="1.3"/><circle cx="1784.9" cy="1371.9" r="8.6" fill="#fff" stroke="#ff66ff" stroke-width="1.3"/><circle cx="1817.6" cy="1369.2" r="8.6" fill="#fff" stroke="#ff66ff" stroke-width="1.3"/><circle cx="1828.9" cy="1368.5" r="8.6" fill="#fff" stroke="#ff66ff" stroke-width="1.3"/><circle cx="1862.1" cy="1366.4" r="8.6" fill="#fff" stroke="#ff66ff" stroke-width="1.3"/><circle cx="1884.7" cy="1371.2" r="8.6" fill="#fff" stroke="#ff66ff" stroke-width="1.3"/>
</g></g>
<text x="216.5" y="1457.7" font-size="61" text-anchor="end" textLength="31.3" lengthAdjust="spacingAndGlyphs">0</text>
<text x="216.5" y="1302.5" font-size="61" text-anchor="end" textLength="62.6" lengthAdjust="spacingAndGlyphs">50</text>
<text x="216.5" y="1147.4" font-size="61" text-anchor="end" textLength="93.9" lengthAdjust="spacingAndGlyphs">100</text>
<text x="216.5" y="992.2" font-size="61" text-anchor="end" textLength="93.9" lengthAdjust="spacingAndGlyphs">150</text>
<text x="216.5" y="837.0" font-size="61" text-anchor="end" textLength="93.9" lengthAdjust="spacingAndGlyphs">200</text>
<text x="216.5" y="681.9" font-size="61" text-anchor="end" textLength="93.9" lengthAdjust="spacingAndGlyphs">250</text>
<text x="216.5" y="526.7" font-size="61" text-anchor="end" textLength="93.9" lengthAdjust="spacingAndGlyphs">300</text>
<text x="216.5" y="371.5" font-size="61" text-anchor="end" textLength="93.9" lengthAdjust="spacingAndGlyphs">350</text>
<text x="216.5" y="216.4" font-size="61" text-anchor="end" textLength="93.9" lengthAdjust="spacingAndGlyphs">400</text>
<text x="216.5" y="61.2" font-size="61" text-anchor="end" textLength="93.9" lengthAdjust="spacingAndGlyphs">450</text>
<text x="232.0" y="1499.3" font-size="61" text-anchor="middle" textLength="31.3" lengthAdjust="spacingAndGlyphs">0</text>
<text x="604.9" y="1499.3" font-size="61" text-anchor="middle" textLength="93.9" lengthAdjust="spacingAndGlyphs">300</text>
<text x="977.8" y="1499.3" font-size="61" text-anchor="middle" textLength="93.9" lengthAdjust="spacingAndGlyphs">600</text>
<text x="1350.7" y="1499.3" font-size="61" text-anchor="middle" textLength="93.9" lengthAdjust="spacingAndGlyphs">900</text>
<text x="1723.6" y="1499.3" font-size="61" text-anchor="middle" textLength="125.2" lengthAdjust="spacingAndGlyphs">1200</text>
<text x="2096.5" y="1499.3" font-size="61" text-anchor="middle" textLength="125.2" lengthAdjust="spacingAndGlyphs">1500</text>
<text x="1030" y="1596" font-size="71" textLength="267" lengthAdjust="spacingAndGlyphs">Time (s)</text>
<text transform="translate(88,1131) rotate(-90)" font-size="78" textLength="738" lengthAdjust="spacingAndGlyphs">Incident heat flux (kW/m</text>
<text transform="translate(56,392) rotate(-90)" font-size="52">2</text>
<text transform="translate(88,368) rotate(-90)" font-size="78">)</text>
<rect x="1255.9" y="66.7" width="777" height="457" fill="#fff" stroke="#000" stroke-width="1.6"/>
<line x1="1265" y1="115.3" x2="1423" y2="115.3" stroke="#000000" stroke-width="9.8" stroke-linecap="round"/>
<g transform="translate(1344,0) scale(1.12,1) translate(-1344,0)"><path d="M1334.0,109.5H1354.0L1344.0,126.9Z" fill="#fff" stroke="#000000" stroke-width="1.3"/></g>
<text x="1462" y="144.1" font-size="78">SiO2gel</text>
<line x1="1265" y1="205" x2="1423" y2="205" stroke="#008000" stroke-width="9.8" stroke-linecap="round"/>
<g transform="translate(1344,0) scale(1.12,1) translate(-1344,0)"><path d="M1334.0,210.8H1354.0L1344.0,193.4Z" fill="#fff" stroke="#008000" stroke-width="1.3"/></g>
<text x="1462" y="231.8" font-size="78">Concrete</text>
<line x1="1265" y1="294.2" x2="1423" y2="294.2" stroke="#0000ff" stroke-width="9.8" stroke-linecap="round"/>
<g transform="translate(1344,0) scale(1.12,1) translate(-1344,0)"><rect x="1336.9" y="287.1" width="14.2" height="14.2" fill="#fff" stroke="#0000ff" stroke-width="1.3"/></g>
<text x="1462" y="321" font-size="78">Calcium silicate</text>
<line x1="1265" y1="383.5" x2="1423" y2="383.5" stroke="#ff8000" stroke-width="9.8" stroke-linecap="round"/>
<g transform="translate(1344,0) scale(1.12,1) translate(-1344,0)"><polygon points="1344.0,373.7 1341.5,380.1 1334.7,380.5 1340.0,384.8 1338.2,391.4 1344.0,387.7 1349.8,391.4 1348.0,384.8 1353.3,380.5 1346.5,380.1" fill="#fff" stroke="#ff8000" stroke-width="1.3"/></g>
<text x="1462" y="410.3" font-size="78">Fireproof coating</text>
<line x1="1265" y1="472.7" x2="1423" y2="472.7" stroke="#ff66ff" stroke-width="9.8" stroke-linecap="round"/>
<g transform="translate(1344,0) scale(1.12,1) translate(-1344,0)"><circle cx="1344.0" cy="472.7" r="8.6" fill="#fff" stroke="#ff66ff" stroke-width="1.3"/></g>
<text x="1462" y="499.5" font-size="78">Magnesium oxide</text>
</svg></body></html>
